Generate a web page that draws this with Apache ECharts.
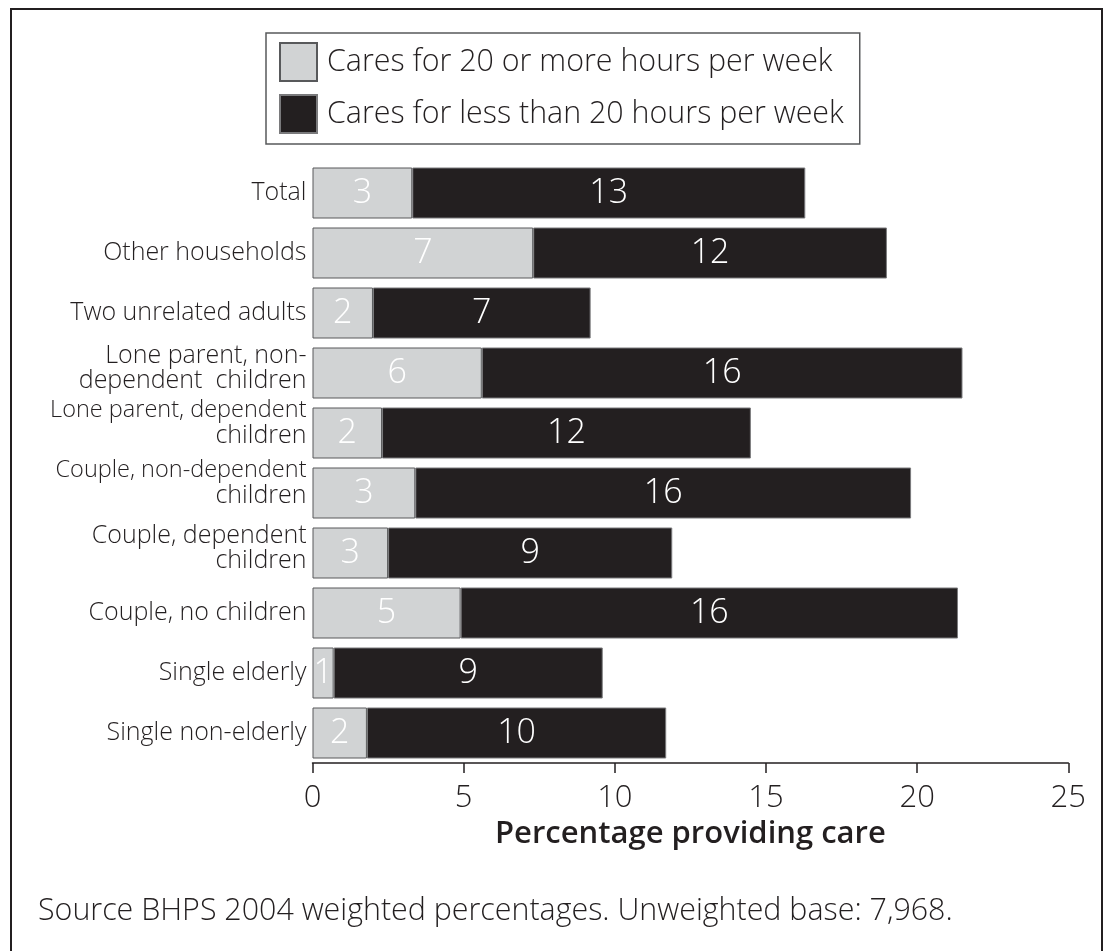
<!DOCTYPE html>
<html>
<head>
<meta charset="utf-8">
<script src="https://cdn.jsdelivr.net/npm/echarts@6/dist/echarts.min.js"></script>
<style>
  html, body { margin: 0; padding: 0; background: #ffffff; }
  #chart { width: 1105px; height: 951px; }
</style>
</head>
<body>
<div id="chart"></div>
<script>
// Household types, top to bottom
const categories = [
  'Total',
  'Other households',
  'Two unrelated adults',
  'Lone parent, non-\ndependent  children',
  'Lone parent, dependent\nchildren',
  'Couple, non-dependent\nchildren',
  'Couple, dependent\nchildren',
  'Couple, no children',
  'Single elderly',
  'Single non-elderly'
];

// Percentage caring for 20 or more hours per week
const careHeavy = [3.3, 7.3, 2.0, 5.6, 2.3, 3.4, 2.5, 4.9, 0.7, 1.8];
// Percentage caring for less than 20 hours per week
const careLight = [13.0, 11.7, 7.2, 15.9, 12.2, 16.4, 9.4, 16.45, 8.9, 9.9];

const xTicks = [0, 5, 10, 15, 20, 25];

const seriesNames = [
  'Cares for 20 or more hours per week',
  'Cares for less than 20 hours per week'
];

const FONT = '"Open Sans", "Noto Sans", sans-serif';
const INK = '#231f20';
const PALE = '#d1d3d4';

const chart = echarts.init(document.getElementById('chart'), null, { renderer: 'canvas' });

const barLabel = {
  show: true,
  position: 'inside',
  color: '#ffffff',
  fontFamily: FONT,
  fontWeight: 300,
  fontSize: 34,
  formatter: p => String(Math.round(p.value))
};

// Two-line category names sit a little above the band centre;
// long first lines are set slightly tighter so they fit the margin.
function categoryLabel(name) {
  const lines = name.split('\n');
  if (lines.length === 1) return '{a|' + name + '}';
  const parts = lines.map(l => (l.length > 20 ? '{t|' + l + '}' : '{b|' + l + '}'));
  const spacer = lines[0].length > 17 ? '{s| }' : '{u| }';
  return parts.join('\n') + '\n' + spacer;
}

chart.setOption({
  backgroundColor: '#ffffff',
  animation: false,
  textStyle: { fontFamily: FONT, color: INK },
  graphic: [
    {
      type: 'rect',
      shape: { x: 11, y: 9, width: 1091, height: 960 },
      style: { fill: 'none', stroke: INK, lineWidth: 2 },
      silent: true
    },
    {
      type: 'text',
      left: 38,
      top: 896,
      style: {
        text: 'Source BHPS 2004 weighted percentages. Unweighted base: 7,968.',
        fill: INK,
        font: '300 30.4px ' + FONT
      }
    }
  ],
  legend: {
    orient: 'vertical',
    left: 266,
    top: 33,
    padding: [9, 16, 10, 13],
    icon: 'rect',
    itemWidth: 37,
    itemHeight: 38,
    itemGap: 12,
    borderColor: '#58595b',
    borderWidth: 1.5,
    textStyle: { fontFamily: FONT, fontSize: 30.4, fontWeight: 300, color: INK, padding: [0, 0, 0, 5] },
    data: seriesNames
  },
  grid: {
    left: 312.5,
    right: 36.7,
    top: 163,
    bottom: 188,
    containLabel: false
  },
  xAxis: {
    type: 'value',
    min: 0,
    max: 25,
    interval: 5,
    name: 'Percentage providing care',
    nameLocation: 'middle',
    nameGap: 54,
    nameTextStyle: { fontFamily: FONT, fontSize: 31, fontWeight: 600, color: INK },
    axisLine: { show: true, lineStyle: { color: INK, width: 1.5 } },
    axisTick: { show: true, length: 10, inside: false, lineStyle: { color: INK, width: 1.5 } },
    axisLabel: {
      margin: 20,
      fontFamily: FONT,
      fontSize: 31,
      fontWeight: 300,
      color: INK,
      formatter: v => (xTicks.includes(v) ? String(v) : '')
    },
    splitLine: { show: false }
  },
  yAxis: {
    type: 'category',
    inverse: true,
    data: categories,
    axisLine: { show: false },
    axisTick: { show: false },
    axisLabel: {
      margin: 6,
      color: INK,
      align: 'right',
      formatter: categoryLabel,
      rich: {
        a: { fontFamily: FONT, fontSize: 25, fontWeight: 300, color: INK, align: 'right' },
        b: { fontFamily: FONT, fontSize: 25, fontWeight: 300, color: INK, lineHeight: 25, align: 'right' },
        t: { fontFamily: FONT, fontSize: 23.5, fontWeight: 300, color: INK, lineHeight: 26, align: 'right' },
        s: { fontSize: 10, lineHeight: 20 },
        u: { fontSize: 10, lineHeight: 10 }
      }
    }
  },
  series: [
    {
      name: seriesNames[0],
      type: 'bar',
      stack: 'care',
      barCategoryGap: '15%',
      data: careHeavy,
      itemStyle: { color: PALE, borderColor: '#58595b', borderWidth: 1 },
      label: barLabel
    },
    {
      name: seriesNames[1],
      type: 'bar',
      stack: 'care',
      barCategoryGap: '15%',
      data: careLight,
      itemStyle: { color: INK, borderColor: '#7a7a7c', borderWidth: 1 },
      label: barLabel
    }
  ]
});
</script>
</body>
</html>
